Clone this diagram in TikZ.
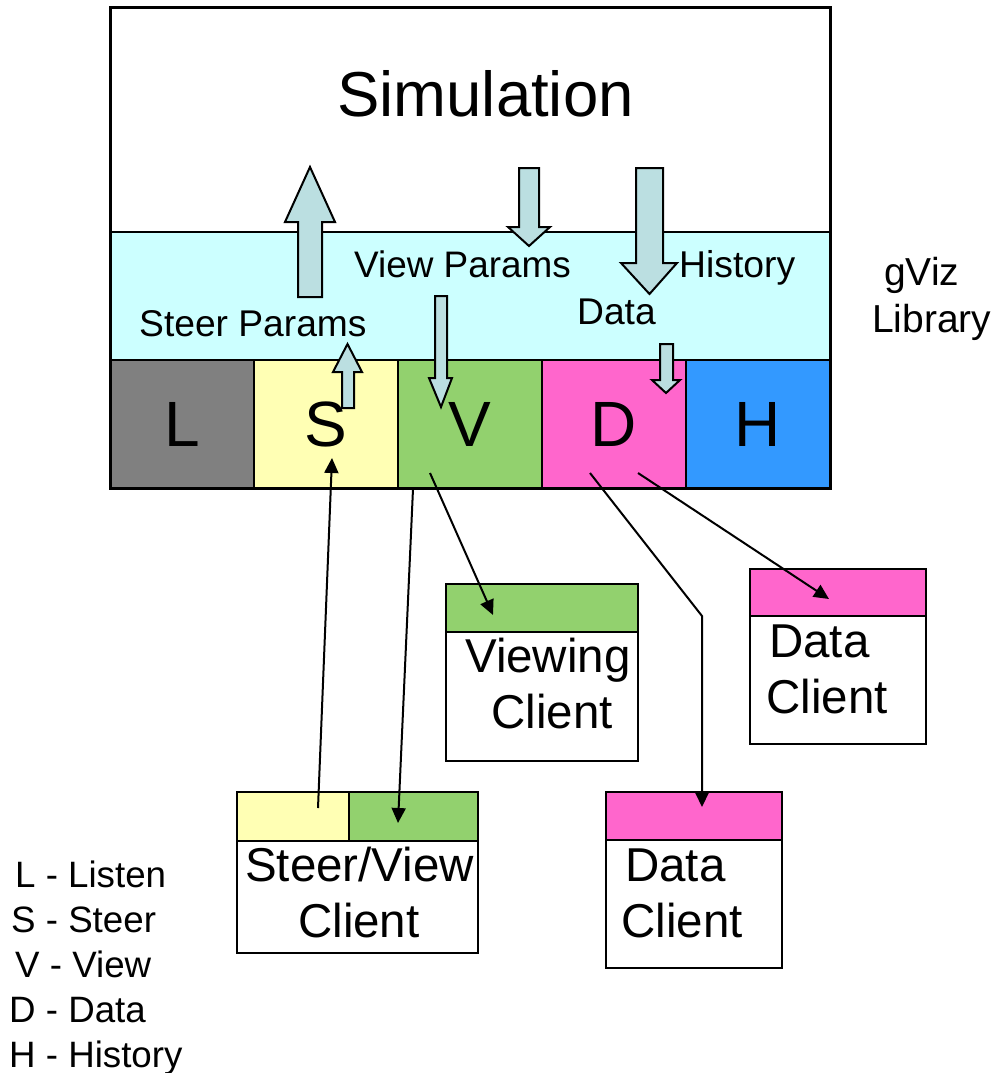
\documentclass[tikz,border=0pt]{standalone}
\usepackage{fontspec}
\setmainfont{Liberation Sans}
\usetikzlibrary{arrows.meta}
\definecolor{cGray}{HTML}{808080}
\definecolor{cYel}{HTML}{FFFFB4}
\definecolor{cGreen}{HTML}{92D16E}
\definecolor{cPink}{HTML}{FF66CC}
\definecolor{cBlue}{HTML}{3399FF}
\definecolor{cCyan}{HTML}{CCFFFF}
\definecolor{cArrow}{HTML}{BBDFE1}
\newcommand\fsz[1]{\fontsize{#1}{#1}\selectfont}
\tikzset{
  box/.style={draw=black, line width=2.5pt, inner sep=0pt, minimum width=#1},
  cellbox/.style={draw=black, line width=2.5pt, inner sep=0pt, minimum width=144, minimum height=128, font=\fsz{64}},
  blockarrow/.style={draw=black, fill=cArrow, line width=2pt, line join=miter},
  txt/.style={inner sep=0pt, anchor=base west},
  conn/.style={draw=black, line width=2pt, -{Triangle[length=15pt,width=14pt]}},
}
\begin{document}
\begin{tikzpicture}[x=1pt, y=-1pt]
\useasboundingbox (0,0) rectangle (999,1073);
% Simulation and library band
\node[box=720, minimum height=224, fill=white] (sim) at (470,120) {};
\node[box=720, minimum height=128, fill=cCyan] (band) at (470,296) {};
% cells
\node[cellbox, fill=cGray]  (L) at (182,424) {L};
\node[cellbox, fill=cYel]   (S) at (326,424) {S};
\node[cellbox, fill=cGreen] (V) at (470,424) {V};
\node[cellbox, fill=cPink]  (D) at (614,424) {D};
\node[cellbox, fill=cBlue]  (H) at (758,424) {H};
\draw[line width=3pt] (110,8) rectangle (830,488);
% texts
\node[inner sep=0pt, anchor=base, font=\fsz{63.5}] (simtxt) at (485.5,116) {Simulation};
\node[txt, font=\fsz{36.9}] (vp) at (354,277) {View Params};
\node[txt, font=\fsz{37.2}] (sp) at (139,336) {Steer Params};
\node[txt, font=\fsz{37.3}] (hist) at (679,277) {History};
\node[txt, font=\fsz{37.2}] (data) at (577,324) {Data};
\node[txt, font=\fsz{39}] (gviz) at (884,285) {gViz};
\node[txt, font=\fsz{39}] (lib) at (872,332) {Library};
% block arrows
\path[blockarrow] (298,297) -- (298,222) -- (285,222) -- (310,167) -- (335,222) -- (322,222) -- (322,297) -- cycle;
\path[blockarrow] (519,168) -- (519,227) -- (508,227) -- (529,246) -- (550,227) -- (539,227) -- (539,168) -- cycle;
\path[blockarrow] (636,168) -- (636,263) -- (621,263) -- (649.5,294) -- (677,263) -- (663,263) -- (663,168) -- cycle;
\path[blockarrow] (342,408) -- (342,372) -- (333,372) -- (347.5,344) -- (362,372) -- (354,372) -- (354,408) -- cycle;
\path[blockarrow] (435,296) -- (435,378) -- (429,378) -- (441,407) -- (452,378) -- (447,378) -- (447,296) -- cycle;
\path[blockarrow] (660,344) -- (660,380) -- (652,380) -- (666,393) -- (680,380) -- (673,380) -- (673,344) -- cycle;
% viewing client
\node[box=192, minimum height=48, fill=cGreen] (vch) at (542,608) {};
\node[box=192, minimum height=129, fill=white] (vcb) at (542,696.5) {};
\node[txt, font=\fsz{47.5}] (vct1) at (465,672) {Viewing};
\node[txt, font=\fsz{47.5}] (vct2) at (491,728) {Client};
% steer/view client
\node[box=112, minimum height=49, fill=cYel] (svy) at (293,816.5) {};
\node[box=129, minimum height=49, fill=cGreen] (svg) at (413.5,816.5) {};
\node[box=241, minimum height=112, fill=white] (svb) at (357.5,897) {};
\node[txt, font=\fsz{47.5}] (svt1) at (245,881) {Steer/View};
\node[txt, font=\fsz{47.5}] (svt2) at (298,937) {Client};
% data client bottom
\node[box=176, minimum height=48, fill=cPink] (dc1h) at (694,816) {};
\node[box=176, minimum height=128, fill=white] (dc1b) at (694,904) {};
\node[txt, font=\fsz{47.5}] (dc1t1) at (625,881) {Data};
\node[txt, font=\fsz{47.5}] (dc1t2) at (621,937) {Client};
% data client right
\node[box=176, minimum height=47, fill=cPink] (dc2h) at (838,592.5) {};
\node[box=176, minimum height=128, fill=white] (dc2b) at (838,680) {};
\node[txt, font=\fsz{47.5}] (dc2t1) at (769,657) {Data};
\node[txt, font=\fsz{47.5}] (dc2t2) at (766,713) {Client};
% legend
\node[txt, font=\fsz{36.7}] (lg1) at (15,887) {L - Listen};
\node[txt, font=\fsz{36.7}] (lg2) at (11,932) {S - Steer};
\node[txt, font=\fsz{36.7}] (lg3) at (15,977) {V - View};
\node[txt, font=\fsz{36.7}] (lg4) at (9,1022) {D - Data};
\node[txt, font=\fsz{36.7}] (lg5) at (9,1067) {H - History};
% connector end points
\coordinate (svyP) at (318,808);
\coordinate (sP) at (332,458);
\coordinate (vP1) at (413,489);
\coordinate (svgP) at (398,823);
\coordinate (vP2) at (430,473);
\coordinate (vchP) at (493,615);
\coordinate (dP1) at (590,473);
\coordinate (bend) at (702,616);
\coordinate (dc1P) at (702,807);
\coordinate (dP2) at (638,473);
\coordinate (dc2P) at (829,599);
\draw[conn] (svyP) -- (sP);
\draw[conn] (vP1) -- (svgP);
\draw[conn] (vP2) -- (vchP);
\draw[conn] (dP1) -- (bend) -- (dc1P);
\draw[conn] (dP2) -- (dc2P);
\end{tikzpicture}
\end{document}
